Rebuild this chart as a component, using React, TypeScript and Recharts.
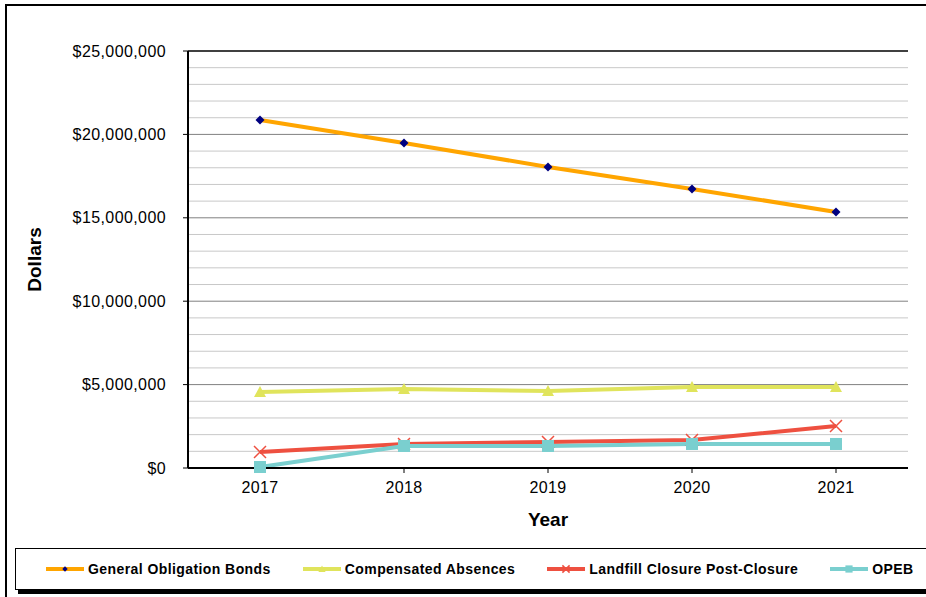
import {
  LineChart,
  Line,
  XAxis,
  YAxis,
  Legend,
  ReferenceLine,
  Label,
} from "recharts";

const years = ["2017", "2018", "2019", "2020", "2021"];
const generalObligation = [20860000, 19480000, 18050000, 16730000, 15350000];
const compensatedAbsences = [4560000, 4740000, 4620000, 4860000, 4860000];
const landfillClosure = [960000, 1440000, 1560000, 1680000, 2520000];
const opeb = [60000, 1320000, 1320000, 1440000, 1440000];

const yTicks = [0, 5000000, 10000000, 15000000, 20000000, 25000000];
const majorLines = [5000000, 10000000, 15000000, 20000000];
const minorLines = [
  1000000, 2000000, 3000000, 4000000, 6000000, 7000000, 8000000, 9000000,
  11000000, 12000000, 13000000, 14000000, 16000000, 17000000, 18000000,
  19000000, 21000000, 22000000, 23000000, 24000000,
];

const data = years.map((year, i) => ({
  year,
  gob: generalObligation[i],
  ca: compensatedAbsences[i],
  landfill: landfillClosure[i],
  opeb: opeb[i],
}));

const FONT = "'Liberation Sans', Arial, sans-serif";

const series = [
  { key: "gob", name: "General Obligation Bonds", color: "#FFA500", marker: "diamond", markerColor: "#000080" },
  { key: "ca", name: "Compensated Absences", color: "#E0E45C", marker: "triangle", markerColor: "#E0E45C" },
  { key: "landfill", name: "Landfill Closure Post-Closure", color: "#EE5040", marker: "cross", markerColor: "#EE5040" },
  { key: "opeb", name: "OPEB", color: "#7ACFCF", marker: "square", markerColor: "#7ACFCF" },
];

const formatDollars = (v: number) => "$" + v.toLocaleString("en-US");

const Marker = ({ cx, cy, type, color, size = 1 }: any) => {
  if (cx == null || cy == null) return null;
  const s = size;
  if (type === "diamond") {
    return <path d={`M${cx},${cy - 4.5 * s}L${cx + 4.5 * s},${cy}L${cx},${cy + 4.5 * s}L${cx - 4.5 * s},${cy}Z`} fill={color} />;
  }
  if (type === "triangle") {
    return <path d={`M${cx},${cy - 6 * s}L${cx + 6 * s},${cy + 5 * s}L${cx - 6 * s},${cy + 5 * s}Z`} fill={color} />;
  }
  if (type === "cross") {
    return (
      <path
        d={`M${cx - 6 * s},${cy - 6 * s}L${cx + 6 * s},${cy + 6 * s}M${cx + 6 * s},${cy - 6 * s}L${cx - 6 * s},${cy + 6 * s}`}
        stroke={color}
        strokeWidth={1.5}
      />
    );
  }
  return <rect x={cx - 6 * s} y={cy - 6 * s} width={12 * s} height={12 * s} fill={color} />;
};

const LegendBox = () => (
  <div
    style={{
      borderTop: "1px solid #000",
      borderLeft: "1px solid #000",
      borderBottom: "1px solid #000",
      boxShadow: "3px 4px 0 #000",
      height: 42,
      boxSizing: "border-box",
      display: "flex",
      alignItems: "center",
      paddingLeft: 29,
      gap: 31,
      fontFamily: FONT,
      fontWeight: "bold",
      fontSize: 14,
      letterSpacing: 0.42,
      color: "#000",
    }}
  >
    {series.map((s) => (
      <div key={s.key} style={{ display: "flex", alignItems: "center" }}>
        <svg width={40} height={14}>
          <line x1={1} y1={7} x2={39} y2={7} stroke={s.color} strokeWidth={4} />
          <Marker cx={20} cy={7} type={s.marker} color={s.markerColor} size={0.6} />
        </svg>
        <span style={{ marginLeft: 3, whiteSpace: "nowrap" }}>{s.name}</span>
      </div>
    ))}
  </div>
);

export default function App() {
  return (
    <div style={{ position: "absolute", left: 0, top: 0, width: 926, height: 597, background: "#fff", overflow: "hidden" }}>
      <div
        style={{
          position: "absolute",
          left: 5,
          top: 4,
          width: 930,
          height: 600,
          border: "2px solid #000",
          boxSizing: "border-box",
        }}
      />
      <LineChart
        width={926}
        height={597}
        data={data}
        margin={{ top: 51, right: 18, bottom: 35, left: 68 }}
        style={{ position: "absolute", left: 0, top: 0 }}
      >
        {minorLines.map((v) => (
          <ReferenceLine key={"mi" + v} y={v} stroke="#C8C8C8" strokeWidth={1} />
        ))}
        {majorLines.map((v) => (
          <ReferenceLine key={"ma" + v} y={v} stroke="#808080" strokeWidth={1} />
        ))}
        <ReferenceLine y={25000000} stroke="#000" strokeWidth={1.5} />
        <XAxis
          dataKey="year"
          height={50}
          padding={{ left: 72, right: 72 }}
          axisLine={{ stroke: "#000", strokeWidth: 2 }}
          tickLine={{ stroke: "#000" }}
          tickSize={5}
          tickMargin={9}
          tick={{ fill: "#000", fontSize: 16, letterSpacing: 0.3, fontFamily: FONT }}
        >
          <Label value="Year" position="insideBottom" offset={-8} style={{ fontFamily: FONT, fontWeight: "bold", fontSize: 19, fill: "#000" }} />
        </XAxis>
        <YAxis
          width={120}
          domain={[0, 25000000]}
          ticks={yTicks}
          tickFormatter={formatDollars}
          axisLine={{ stroke: "#000", strokeWidth: 2 }}
          tickLine={{ stroke: "#000" }}
          tickSize={5}
          tickMargin={17}
          tick={{ fill: "#000", fontSize: 16, letterSpacing: 0.4, fontFamily: FONT }}
        >
          <Label
            value="Dollars"
            angle={-90}
            position="insideLeft"
            offset={-34}
            style={{ fontFamily: FONT, fontWeight: "bold", fontSize: 19, fill: "#000", textAnchor: "middle" }}
          />
        </YAxis>
        <YAxis yAxisId="right" orientation="right" width={0} tick={false} tickLine={false} axisLine={{ stroke: "#000", strokeWidth: 1.5 }} />
        {series.map((s) => (
          <Line
            key={s.key}
            dataKey={s.key}
            name={s.name}
            type="linear"
            stroke={s.color}
            strokeWidth={4}
            isAnimationActive={false}
            dot={(p: any) => <Marker key={s.key + p.index} cx={p.cx} cy={p.cy} type={s.marker} color={s.markerColor} />}
            activeDot={false}
          />
        ))}
        <Legend
          verticalAlign="bottom"
          content={() => <LegendBox />}
          wrapperStyle={{ left: 15, width: 920, bottom: 5, height: 44 }}
        />
      </LineChart>
    </div>
  );
}
